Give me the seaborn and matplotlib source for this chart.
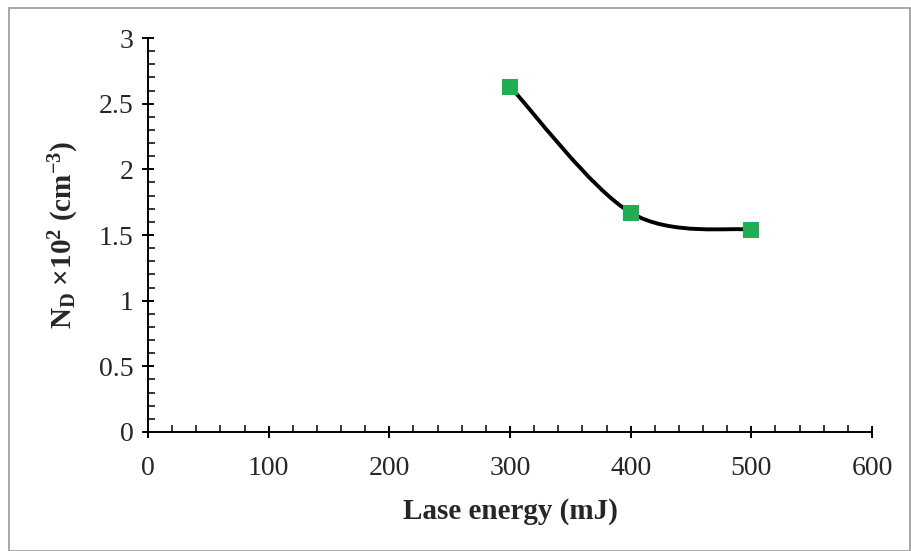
import matplotlib
matplotlib.use("Agg")
import matplotlib.pyplot as plt
import numpy as np
import pandas as pd
import seaborn as sns
from matplotlib.patches import PathPatch, Rectangle
from matplotlib.path import Path
from matplotlib.ticker import MultipleLocator

# values
laser_energy = [300, 400, 500]
nd_values = [2.63, 1.67, 1.54]

x_ticks = [0, 100, 200, 300, 400, 500, 600]
y_ticks = [0, 0.5, 1, 1.5, 2, 2.5, 3]

sns.set_style("white")
plt.rcParams["font.family"] = ["Liberation Serif", "DejaVu Serif"]
plt.rcParams["mathtext.fontset"] = "custom"
plt.rcParams["mathtext.rm"] = "Liberation Serif"
plt.rcParams["mathtext.bf"] = "Liberation Serif:bold"
plt.rcParams["mathtext.it"] = "Liberation Serif:italic"

df = pd.DataFrame({"energy": laser_energy, "nd": nd_values})


def smooth_path(xs, ys):
    # Excel-style smoothed line: cubic Bezier segments between the points
    pts = np.column_stack([xs, ys]).astype(float)
    n = len(pts)
    verts = [pts[0]]
    codes = [Path.MOVETO]
    for i in range(n - 1):
        p_prev = pts[i - 1] if i > 0 else pts[i]
        p_next2 = pts[i + 2] if i + 2 < n else pts[i + 1]
        c1 = pts[i] + (pts[i + 1] - p_prev) / 6.0
        c2 = pts[i + 1] - (p_next2 - pts[i]) / 6.0
        verts += [c1, c2, pts[i + 1]]
        codes += [Path.CURVE4] * 3
    return Path(verts, codes)


fig = plt.figure(figsize=(9.11, 5.51), dpi=100)
ax = fig.add_axes([0.1625, 0.216, 0.7947, 0.715])

ax.add_patch(PathPatch(smooth_path(df["energy"], df["nd"]), facecolor="none",
                       edgecolor="black", lw=2.8, zorder=2))
sns.scatterplot(data=df, x="energy", y="nd", marker="s", s=130, color="#1fae52",
                edgecolor="none", ax=ax, zorder=3, legend=False)

ax.set_xlim(0, 600)
ax.set_ylim(0, 3)
ax.set_xticks(x_ticks)
ax.set_yticks(y_ticks)
ax.set_xticklabels([str(v) for v in x_ticks])
ax.set_yticklabels([f"{v:g}" for v in y_ticks])
ax.xaxis.set_minor_locator(MultipleLocator(20))
ax.yaxis.set_minor_locator(MultipleLocator(0.1))

for s in ["top", "right"]:
    ax.spines[s].set_visible(False)
for s in ["left", "bottom"]:
    ax.spines[s].set_color("black")
    ax.spines[s].set_linewidth(1.4)

ax.tick_params(which="major", direction="inout", length=9, width=1.4,
               color="black", labelsize=20)
ax.tick_params(axis="x", which="major", pad=13)
ax.tick_params(axis="y", which="major", pad=6)
ax.tick_params(which="minor", direction="in", length=5, width=1.1, color="black")
ax.tick_params(axis="x", which="both", bottom=True)
ax.tick_params(axis="y", which="both", left=True)

ax.set_xlabel("Lase energy (mJ)", fontsize=21, fontweight="bold", labelpad=12)
ax.set_ylabel(r"$\mathbf{N_D}$ $\mathbf{\times 10^2}$ $\mathbf{(cm^{-3})}$",
              fontsize=21, labelpad=13)

fig.patches.append(Rectangle((0.010, 0.0), 0.989, 0.985, transform=fig.transFigure,
                             fill=False, edgecolor="#999999", lw=1.2))

fig.savefig("out.png", dpi=100)
